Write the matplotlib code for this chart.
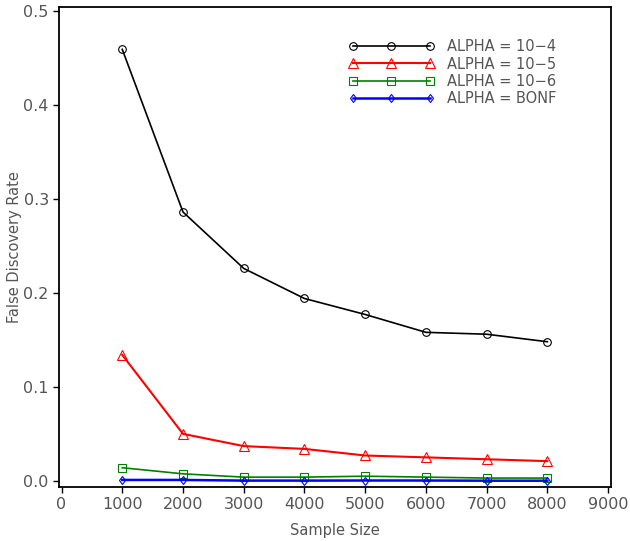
import numpy as np
import matplotlib.pyplot as plt

sample_size = [1000, 2000, 3000, 4000, 5000, 6000, 7000, 8000]
fdr_1e4 = [0.459, 0.286, 0.226, 0.194, 0.177, 0.158, 0.156, 0.148]
fdr_1e5 = [0.134, 0.050, 0.037, 0.034, 0.027, 0.025, 0.023, 0.021]
fdr_1e6 = [0.014, 0.0075, 0.004, 0.004, 0.005, 0.004, 0.003, 0.003]
fdr_bonf = [0.001, 0.001, 0.0003, 0.0003, 0.0004, 0.0004, 0.0002, 0.0002]
labels = ['ALPHA = 10\u22124', 'ALPHA = 10\u22125', 'ALPHA = 10\u22126', 'ALPHA = BONF']

plt.rcParams['font.family'] = ['DejaVu Sans']
txt = '#555555'

fig = plt.figure(figsize=(6.3, 5.41), dpi=100)
ax = fig.add_axes([0.094, 0.100, 0.876, 0.887])

ax.plot(sample_size, fdr_1e4, color='black', lw=1.2, marker='o', ms=5.5, mfc='none', mew=0.8, label=labels[0])
ax.plot(sample_size, fdr_1e5, color='red', lw=1.5, marker='^', ms=6.5, mfc='none', mew=0.8, label=labels[1])
ax.plot(sample_size, fdr_1e6, color='green', lw=1.2, marker='s', ms=5.5, mfc='none', mew=0.8, label=labels[2])
ax.plot(sample_size, fdr_bonf, color='blue', lw=1.8, marker='d', ms=4.5, mfc='none', mew=0.8, label=labels[3])

ax.set_xlim(-38, 9050)
ax.set_ylim(-0.0064, 0.504)
ax.set_xticks(np.arange(0, 9001, 1000))
ax.set_yticks(np.arange(0, 0.51, 0.1))
ax.set_yticklabels([f'{v:.1f}' for v in np.arange(0, 0.51, 0.1)])

ax.tick_params(direction='out', length=4, width=1, colors='black', labelcolor=txt, labelsize=11.5)
for s in ax.spines.values():
    s.set_linewidth(1.3)

ax.set_xlabel('Sample Size', color=txt, fontsize=10.5)
ax.xaxis.set_label_coords(0.5, -0.075)
ax.set_ylabel('False Discovery Rate', color=txt, fontsize=10.5)
ax.yaxis.set_label_coords(-0.068, 0.5)

leg = ax.legend(loc='upper left', bbox_to_anchor=(0.5, 0.96), numpoints=3, frameon=False,
                handlelength=5.9, handletextpad=0.9, labelspacing=0.15, fontsize=10.5, labelcolor=txt)

fig.savefig('out.png', dpi=100)
